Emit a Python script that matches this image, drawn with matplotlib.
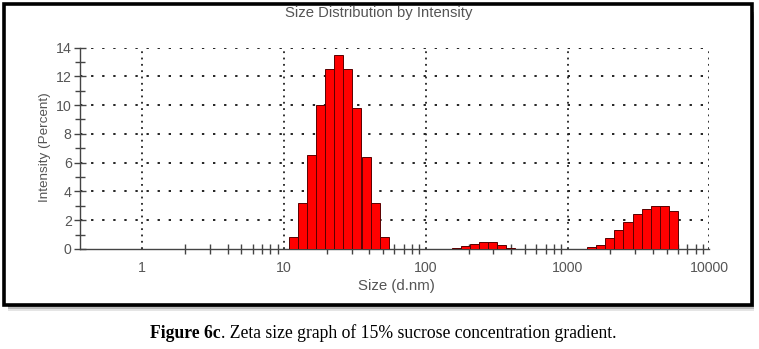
import numpy as np
import matplotlib
matplotlib.use("Agg")
import matplotlib.pyplot as plt
from matplotlib.patches import Rectangle
from matplotlib.ticker import FixedLocator, NullFormatter, FixedFormatter

# Malvern size classes (bin centres, d.nm) and intensity (%)
sizes = [11.70, 13.54, 15.69, 18.17, 21.04, 24.36, 28.21, 32.67, 37.84, 43.82, 50.75,
         164.2, 190.1, 220.2, 255.0, 295.3, 342.0, 396.1,
         1484, 1718, 1990, 2305, 2669, 3091, 3580, 4145, 4801, 5560]
intensity = [0.8, 3.2, 6.5, 10.0, 12.5, 13.5, 12.5, 9.8, 6.4, 3.2, 0.8,
             0.05, 0.19, 0.35, 0.47, 0.47, 0.3, 0.09,
             0.12, 0.3, 0.77, 1.35, 1.88, 2.44, 2.8, 3.0, 3.0, 2.67]
x_ticks = [1, 10, 100, 1000, 10000]
x_ticklabels = ["1", "10", "100", "1000", "10000"]
y_ticks = [0, 2, 4, 6, 8, 10, 12, 14]

title = "Size Distribution by Intensity"
xlabel = "Size (d.nm)"
ylabel = "Intensity (Percent)"
cap_bold = "Figure 6c"
cap_rest = ". Zeta size graph of 15% sucrose concentration gradient."

W, H = 759, 349
fig = plt.figure(figsize=(W / 100, H / 100), dpi=100)
fig.patch.set_facecolor("white")

# frame with shadow
for i, a in enumerate([0.10, 0.18, 0.28]):
    off = 6 - 2 * i
    fig.patches.append(Rectangle((8 / W, (349 - 305 - off) / H), (752 - 6) / W, (305 - 10) / H,
                                 transform=fig.transFigure, facecolor=(0, 0, 0, a),
                                 edgecolor="none", zorder=0))
fig.patches.append(Rectangle((4 / W, (349 - 305) / H), (752 - 4) / W, (305 - 4) / H,
                             transform=fig.transFigure, facecolor="white",
                             edgecolor="black", linewidth=2.6, zorder=1))

ax = fig.add_axes([80 / W, 100 / H, (709.3 - 80) / W, (249 - 47.5) / H])
ax.set_zorder(2)
ax.patch.set_alpha(0)

ratio = 10 ** 0.0637
left = [s / np.sqrt(ratio) for s in sizes]
width = [s * np.sqrt(ratio) - l for s, l in zip(sizes, left)]
ax.bar(left, intensity, width=width, align="edge", color="#ff0000",
       edgecolor="#5a0000", linewidth=0.7, zorder=3)

ax.set_xscale("log")
ax.set_xlim(0.363, 10000)
ax.set_ylim(0, 14)

ax.xaxis.set_major_locator(FixedLocator(x_ticks))
ax.xaxis.set_major_formatter(FixedFormatter(x_ticklabels))
minor = [m * 10 ** e for e in range(0, 4) for m in range(2, 10)]
ax.xaxis.set_minor_locator(FixedLocator(minor))
ax.xaxis.set_minor_formatter(NullFormatter())
ax.yaxis.set_major_locator(FixedLocator(y_ticks))
ax.yaxis.set_minor_locator(FixedLocator([1, 3, 5, 7, 9, 11, 13]))

for s in ["top", "right"]:
    ax.spines[s].set_visible(False)
for s in ["left", "bottom"]:
    ax.spines[s].set_color("#444444")
    ax.spines[s].set_linewidth(1.0)

ax.tick_params(axis="both", which="both", direction="inout", colors="#444444",
               labelcolor="#555555", labelsize=10.2)
ax.tick_params(axis="both", which="major", length=8, width=1.0)
ax.tick_params(axis="both", which="minor", length=7, width=1.0)
ax.tick_params(axis="x", which="major", length=0, pad=9)
ax.tick_params(axis="y", which="major", pad=2)

for y in y_ticks[1:]:
    ax.axhline(y, color="#222222", linestyle=(0, (1.2, 4.5)), linewidth=1.4, zorder=1)
for x in x_ticks:
    ax.axvline(x, color="#222222", linestyle=(0, (1.0, 2.5)), linewidth=1.3, zorder=1)

for lab in ax.get_xticklabels() + ax.get_yticklabels():
    lab.set_family(["Liberation Sans", "DejaVu Sans"])

fig.text(379 / W, 1 - 13 / H, title, ha="center", va="center", fontsize=10.7,
         color="#555555", family=["Liberation Sans", "DejaVu Sans"])
fig.text(396 / W, 1 - 286 / H, xlabel, ha="center", va="center", fontsize=10.8,
         color="#555555", family=["Liberation Sans", "DejaVu Sans"])
fig.text(45 / W, 1 - 147 / H, ylabel, ha="center", va="center", fontsize=9.7,
         rotation=90, color="#555555", family=["Liberation Sans", "DejaVu Sans"])

# caption
fig.canvas.draw()
r = fig.canvas.get_renderer()
tb = fig.text(0, 1 - 333 / H, cap_bold, ha="left", va="center", fontsize=12.7,
              fontweight="bold", family=["Liberation Serif", "DejaVu Serif"])
tr = fig.text(0, 1 - 333 / H, cap_rest, ha="left", va="center", fontsize=12.7,
              family=["Liberation Serif", "DejaVu Serif"])
wb = tb.get_window_extent(r).width
wr = tr.get_window_extent(r).width
x0 = 383 - (wb + wr) / 2
tb.set_x(x0 / W)
tr.set_x((x0 + wb) / W)

fig.savefig("out.png", dpi=100, facecolor="white")
